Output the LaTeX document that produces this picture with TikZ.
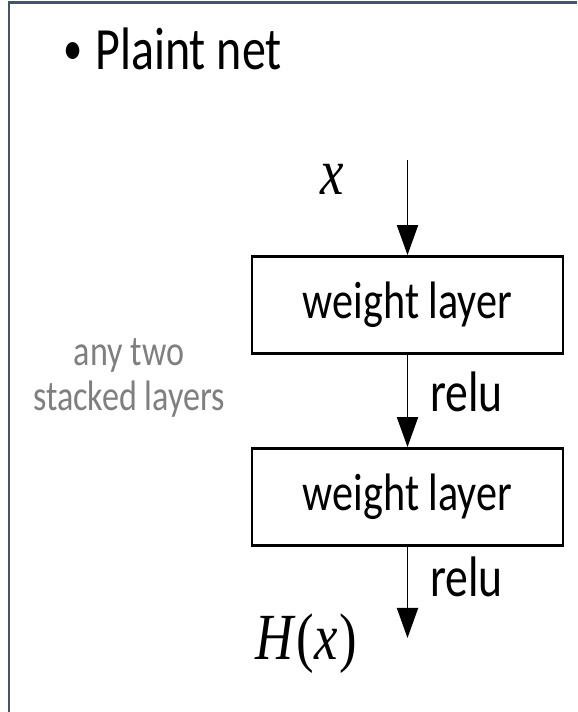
\documentclass[tikz,border=0pt]{standalone}
\usepackage{fontspec}
\setmainfont{Carlito}
\newfontfamily\varfont{Liberation Serif}
\usepackage{tikz}
\usetikzlibrary{arrows.meta, positioning, calc}
\definecolor{framegray}{RGB}{68,84,106}
\definecolor{notegray}{RGB}{127,127,127}

\begin{document}
\begin{tikzpicture}[
  tall/.style={inner sep=0pt, yscale=1.25},
  layer/.style={draw, line width=1.6pt, minimum width=6.22cm, minimum height=1.54cm,
    inner sep=0pt, yscale=1.25, font=\fontsize{24}{28}\selectfont},
  flow/.style={line width=1.1pt, -{Triangle[width=0.42cm, length=0.6cm]}},
  lbl/.style={tall, anchor=base west, font=\fontsize{26}{30}\selectfont},
  var/.style={tall, anchor=base west, font=\fontsize{30}{34}\varfont}
]
  \useasboundingbox (0,0) rectangle (11.54,14.24);

  % Frame
  \draw[framegray, line width=1.7pt] (0.18,0) -- (0.18,14.18) -- (11.54,14.18);

  % Headers
  \node[tall, anchor=base west, font=\fontsize{27.3}{32}\selectfont] (title) at (1.26, 12.84)
    {\raisebox{2.5pt}{\scalebox{0.8}{\textbullet}}\hspace{0.26cm}Plaint net};
  \node[tall, align=center, text=notegray, font=\fontsize{19.4}{20.5}\selectfont] (note) at (2.58, 6.68)
    {any two\\stacked layers};

  % Layers
  \coordinate (in) at (8.15, 11.04);
  \node[layer] (layer1) at (8.15, 8.14) {weight layer};
  \node[layer] (layer2) at (8.15, 4.30) {weight layer};
  \coordinate (out) at (8.15, 1.48);

  % Labels
  \node[var] (xin) at (6.40, 10.34) {\itshape x};
  \node[lbl] (relu1) at (8.6, 6.0) {relu};
  \node[lbl] (relu2) at (8.6, 2.30) {relu};
  \node[var] (hx) at (5.10, 1.04)
    {\itshape H\kern2pt\upshape(\itshape x\kern1pt\upshape)};

  % Arrows
  \draw[flow] (in) -- (layer1.north);
  \draw[flow] (layer1.south) -- (layer2.north);
  \draw[flow] (layer2.south) -- (out);
\end{tikzpicture}
\end{document}
